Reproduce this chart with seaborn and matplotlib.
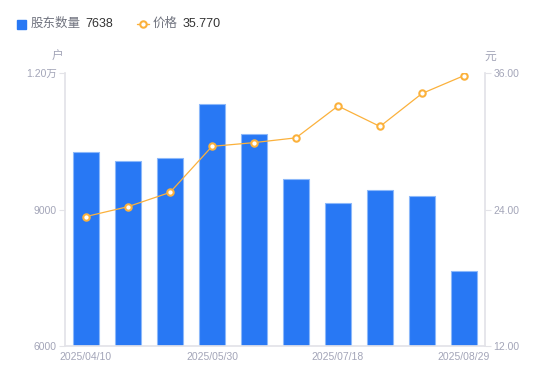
import numpy as np
import pandas as pd
import matplotlib
matplotlib.use("Agg")
import matplotlib.pyplot as plt
import seaborn as sns
from matplotlib.patches import Rectangle
from matplotlib.lines import Line2D
from matplotlib.ticker import FuncFormatter

# data
dates = ["2025/04/10", "2025/04/18", "2025/04/30", "2025/05/30", "2025/06/13",
         "2025/06/30", "2025/07/18", "2025/07/31", "2025/08/15", "2025/08/29"]
holders = [10260, 10070, 10130, 11320, 10650, 9660, 9140, 9420, 9290, 7638]
price = [23.38, 24.25, 25.50, 29.55, 29.88, 30.30, 33.10, 31.30, 34.20, 35.77]

left_ticks = [6000, 9000, 12000]
right_ticks = [12.0, 24.0, 36.0]

sns.set_theme(style="white")
plt.rcParams["font.family"] = ["Liberation Sans", "Noto Sans CJK SC", "DejaVu Sans"]

BLUE = "#2878f4"
ORANGE = "#fbb13c"
GREY = "#a3a5b8"
AXIS = "#e3e3e8"

df = pd.DataFrame({"date": dates, "holders": holders, "price": price})

fig = plt.figure(figsize=(5.5, 3.81), dpi=100)
ax = fig.add_axes([65 / 550, 35 / 381, 420 / 550, 273 / 381])

sns.barplot(data=df, x="date", y="holders", color=BLUE, width=0.6,
            saturation=1, edgecolor="#8cb8fa", linewidth=0.8, ax=ax)
ax.set_ylim(6000, 12000)
ax.set_xlim(-0.5, len(dates) - 0.5)
ax.set_yticks(left_ticks)
ax.yaxis.set_major_formatter(FuncFormatter(
    lambda v, p: f"{v / 10000:.2f}万" if v >= 10000 else f"{v:.0f}"))
ax.set_xlabel("")
ax.set_ylabel("")

shown = [0, 3, 6, 9]
ax.set_xticks(shown)
ax.set_xticklabels([dates[i] for i in shown])

ax2 = ax.twinx()
sns.lineplot(x=np.arange(len(dates)), y=price, color=ORANGE, linewidth=0.9,
             marker="o", markersize=4.6, markerfacecolor="white",
             markeredgecolor=ORANGE, markeredgewidth=1.5, ax=ax2)
ax2.set_ylim(12, 36)
ax2.set_yticks(right_ticks)
ax2.yaxis.set_major_formatter(FuncFormatter(lambda v, p: f"{v:.2f}"))
ax2.set_xlim(-0.5, len(dates) - 0.5)

for a in (ax, ax2):
    for s in a.spines.values():
        s.set_visible(False)
    a.tick_params(colors=GREY, labelsize=7.5, length=4, width=0.8)
    a.tick_params(axis="x", length=0, pad=4)
    a.grid(False)
ax.spines["left"].set_visible(True)
ax.spines["left"].set_color(AXIS)
ax.spines["bottom"].set_visible(True)
ax.spines["bottom"].set_color(AXIS)
ax2.spines["right"].set_visible(True)
ax2.spines["right"].set_color(AXIS)
ax.tick_params(axis="y", color=AXIS, pad=2)
ax2.tick_params(axis="y", color=AXIS, pad=2)
for lbl in ax.get_yticklabels() + ax2.get_yticklabels() + ax.get_xticklabels():
    lbl.set_color(GREY)

# unit labels
fig.text(58 / 550, 1 - 57 / 381, "户", color=GREY, fontsize=8.5, ha="center", va="center")
fig.text(490 / 550, 1 - 57 / 381, "元", color=GREY, fontsize=8.5, ha="center", va="center")

# legend row
ly = 1 - 24 / 381
fig.add_artist(Rectangle((17 / 550, ly - 4.5 / 381), 9 / 550, 9 / 381,
                         transform=fig.transFigure, color=BLUE))
fig.text(31 / 550, ly, "股东数量", color="#70737f", fontsize=9, va="center")
fig.text(85 / 550, ly, "7638", color="#333333", fontsize=9, va="center")
fig.add_artist(Line2D([137 / 550, 149 / 550], [ly, ly], transform=fig.transFigure,
                      color=ORANGE, linewidth=1))
fig.add_artist(Line2D([143 / 550], [ly], transform=fig.transFigure, color=ORANGE,
                      marker="o", markersize=4.6, markerfacecolor="white",
                      markeredgewidth=1.5))
fig.text(153 / 550, ly, "价格", color="#70737f", fontsize=9, va="center")
fig.text(183 / 550, ly, "35.770", color="#333333", fontsize=9, va="center")

fig.savefig("out.png", dpi=100)
